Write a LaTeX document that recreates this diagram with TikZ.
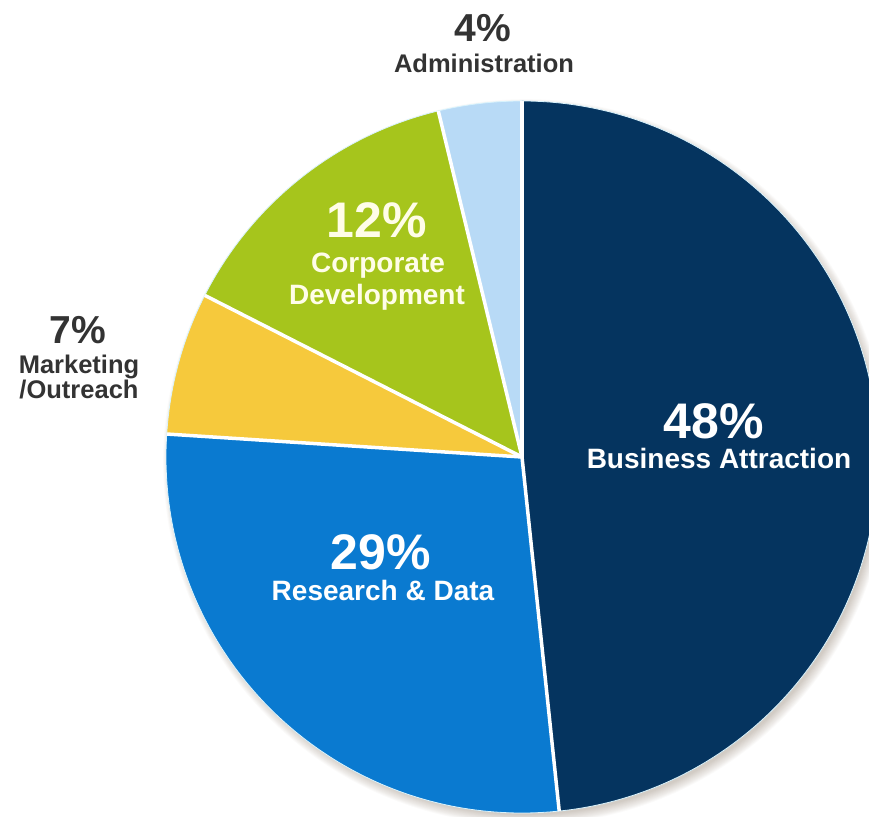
\documentclass[tikz,border=0pt]{standalone}
\usepackage{fontspec}
\setmainfont{Liberation Sans}
\definecolor{navy}{HTML}{05345F}
\definecolor{midblue}{HTML}{0A7AD0}
\definecolor{paleblue}{HTML}{B8DAF6}
\definecolor{lime}{HTML}{A6C51C}
\definecolor{gold}{HTML}{F6C93C}
\definecolor{ink}{HTML}{333333}
\definecolor{cream}{HTML}{FFFDE8}
\tikzset{
  pct/.style={anchor=base, inner sep=0pt, text=white,
    font=\bfseries\fontsize{50}{50}\selectfont},
  lbl/.style={anchor=base, inner sep=0pt, text=white,
    font=\bfseries\fontsize{28}{28}\selectfont},
  outpct/.style={anchor=base, inner sep=0pt, text=ink,
    font=\bfseries\fontsize{39}{39}\selectfont},
  outlbl/.style={anchor=base, inner sep=0pt, text=ink,
    font=\bfseries\fontsize{25.5}{25.5}\selectfont},
  sep/.style={white, line width=3.5pt}
}
\begin{document}
\begin{tikzpicture}[x=1pt, y=1pt]
  \useasboundingbox (0,0) rectangle (869,816);
  \coordinate (c) at (522,359);
  % soft shadow
  \foreach \i in {1,...,12}
    \fill[black!60!brown, opacity=0.025] (526,354) circle ({352+\i*0.9});
  % slices
  \fill[navy] (c) -- ++(-84:356) arc[start angle=-84, end angle=90, radius=356] -- cycle;
  \fill[paleblue] (c) -- ++(90:356) arc[start angle=90, end angle=103.6, radius=356] -- cycle;
  \fill[lime] (c) -- ++(103.6:356) arc[start angle=103.6, end angle=153, radius=356] -- cycle;
  \fill[gold] (c) -- ++(153:356) arc[start angle=153, end angle=176.3, radius=356] -- cycle;
  \fill[midblue] (c) -- ++(176.3:356) arc[start angle=176.3, end angle=276, radius=356] -- cycle;
  \draw[white!85!cyan, line width=0.8pt] (c) circle (356);
  \draw[sep] (c) -- ++(90:356);
  \draw[sep] (c) -- ++(103.6:356);
  \draw[sep] (c) -- ++(153:356);
  \draw[sep] (c) -- ++(176.3:356);
  \draw[sep] (c) -- ++(276:356);
  % labels
  \node[outpct] (p4) at (483,774) {4\%};
  \node[outlbl] (t4) at (484,743) {Administration};
  \node[outpct] (p7) at (78,472) {7\%};
  \node[outlbl] (t7a) at (79,442) {Marketing};
  \node[outlbl] (t7b) at (79,417) {/Outreach};
  \node[pct, text=cream] (p12) at (377,578) {12\%};
  \node[lbl, text=cream] (t12a) at (378,543) {Corporate};
  \node[lbl, text=cream] (t12b) at (377,511) {Development};
  \node[pct] (p48) at (714,377) {48\%};
  \node[lbl] (t48) at (719,347) {Business Attraction};
  \node[pct] (p29) at (381,246) {29\%};
  \node[lbl] (t29) at (383,215) {Research \& Data};
\end{tikzpicture}
\end{document}
